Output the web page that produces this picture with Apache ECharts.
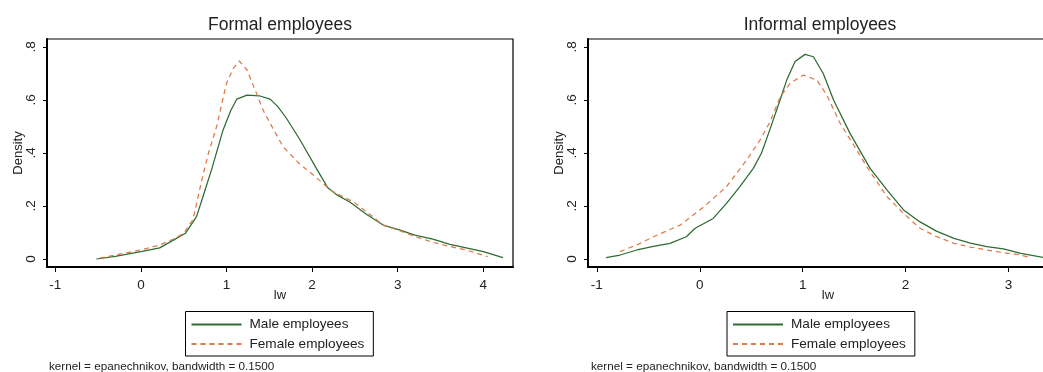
<!DOCTYPE html>
<html>
<head>
<meta charset="utf-8">
<script src="https://cdn.jsdelivr.net/npm/echarts@6/dist/echarts.min.js"></script>
<style>html,body{margin:0;padding:0;background:#fff;}#c{width:1043px;height:372px;}</style>
</head>
<body>
<div id="c"></div>
<script>
// ---- data (lw, density) ----
const formalMale = [[-0.52,0.0],[-0.3,0.01],[0,0.028],[0.22,0.042],[0.4,0.075],[0.52,0.097],[0.65,0.16],[0.72,0.23],[0.83,0.342],[0.96,0.487],[1.05,0.56],[1.12,0.603],[1.24,0.618],[1.39,0.615],[1.51,0.603],[1.60,0.575],[1.70,0.531],[1.86,0.449],[2.05,0.342],[2.18,0.27],[2.3,0.24],[2.44,0.215],[2.63,0.17],[2.83,0.128],[3.02,0.11],[3.2,0.09],[3.41,0.075],[3.61,0.055],[3.8,0.042],[4.0,0.028],[4.23,0.005]];
const formalFemale = [[-0.48,0.003],[-0.25,0.018],[0,0.034],[0.22,0.053],[0.4,0.078],[0.5,0.097],[0.61,0.15],[0.72,0.31],[0.79,0.40],[0.885,0.50],[1.0,0.663],[1.08,0.72],[1.15,0.747],[1.24,0.713],[1.35,0.625],[1.43,0.56],[1.51,0.512],[1.66,0.424],[1.85,0.36],[2.01,0.318],[2.24,0.254],[2.48,0.216],[2.63,0.18],[2.83,0.128],[3.02,0.107],[3.2,0.085],[3.41,0.063],[3.6,0.048],[3.8,0.034],[4.05,0.009]];
const informalMale = [[-0.91,0.005],[-0.775,0.015],[-0.61,0.034],[-0.45,0.048],[-0.29,0.059],[-0.13,0.084],[-0.045,0.116],[0.13,0.153],[0.26,0.21],[0.39,0.273],[0.52,0.342],[0.6,0.40],[0.683,0.49],[0.78,0.60],[0.845,0.675],[0.926,0.745],[1.023,0.772],[1.104,0.763],[1.20,0.70],[1.30,0.60],[1.46,0.474],[1.655,0.342],[1.82,0.26],[1.98,0.185],[2.14,0.14],[2.3,0.105],[2.47,0.078],[2.63,0.06],[2.79,0.047],[2.95,0.038],[3.12,0.021],[3.34,0.006],[3.45,0.002]];
const informalFemale = [[-0.775,0.028],[-0.6,0.055],[-0.45,0.084],[-0.19,0.128],[0.04,0.197],[0.26,0.273],[0.457,0.374],[0.586,0.449],[0.68,0.515],[0.78,0.61],[0.877,0.663],[1.007,0.694],[1.137,0.675],[1.234,0.619],[1.364,0.512],[1.526,0.411],[1.623,0.348],[1.82,0.235],[1.98,0.172],[2.14,0.116],[2.3,0.085],[2.47,0.059],[2.63,0.045],[2.79,0.034],[2.95,0.024],[3.12,0.015],[3.2,0.006]];

const panelTitles = ['Formal employees', 'Informal employees'];
const seriesNames = ['Male employees', 'Female employees'];
const xTicksFormal = [-1, 0, 1, 2, 3, 4];
const xTicksInformal = [-1, 0, 1, 2, 3];
const yTicks = [0, 0.2, 0.4, 0.6, 0.8];
const yTickLabels = ['0', '.2', '.4', '.6', '.8'];
const xTitle = 'lw';
const yTitle = 'Density';
const note = 'kernel = epanechnikov, bandwidth = 0.1500';

const FONT = '"Liberation Sans", Arial, sans-serif';
const TXT = '#222';
const GREEN = '#2d6b32';
const ORANGE = '#dc7a48';

function xAxis(gridIndex, min, max, ticks) {
  return {
    type: 'value', gridIndex, min, max,
    name: xTitle, nameLocation: 'middle', nameGap: 22, nameMoveOverlap: false,
    nameTextStyle: { fontFamily: FONT, fontSize: 13, color: TXT },
    axisLine: { show: true, onZero: false, lineStyle: { color: '#000', width: 2 } },
    axisTick: { show: true, length: 5, customValues: ticks, lineStyle: { color: '#000', width: 1 } },
    axisLabel: { customValues: ticks, margin: 11, fontFamily: FONT, fontSize: 13.5, color: TXT,
      formatter: v => String(v) },
    splitLine: { show: false }
  };
}
function yAxis(gridIndex) {
  return {
    type: 'value', gridIndex, min: -0.0302, max: 0.83,
    name: yTitle, nameLocation: 'middle', nameGap: 22, nameMoveOverlap: false,
    nameTextStyle: { fontFamily: FONT, fontSize: 13, color: TXT },
    axisLine: { show: true, onZero: false, lineStyle: { color: '#000', width: 2 } },
    axisTick: { show: true, length: 4, customValues: yTicks, lineStyle: { color: '#000', width: 1 } },
    axisLabel: { customValues: yTicks, rotate: 90, margin: 9, fontFamily: FONT, fontSize: 13.5, color: TXT,
      formatter: v => { const i = yTicks.findIndex(t => Math.abs(t - v) < 1e-9); return i >= 0 ? yTickLabels[i] : ''; } },
    splitLine: { show: false }
  };
}
function line(name, data, idx, color, dashed) {
  return {
    type: 'line', name, data, xAxisIndex: idx, yAxisIndex: idx,
    showSymbol: false, symbol: 'none', smooth: false, silent: true,
    lineStyle: { color, width: 1.25, type: dashed ? [5, 4] : 'solid' },
    itemStyle: { color }
  };
}
function legend(left) {
  return {
    left, top: 311.5, orient: 'vertical',
    data: seriesNames,
    itemWidth: 50, itemHeight: 14, itemGap: 5.5,
    padding: [6, 9, 5, 5],
    borderColor: '#000', borderWidth: 1,
    itemStyle: { opacity: 0 },
    textStyle: { fontFamily: FONT, fontSize: 13.6, color: TXT, padding: [0, 0, 0, 3] },
    selectedMode: false
  };
}

const chart = echarts.init(document.getElementById('c'), null, { renderer: 'canvas' });
chart.setOption({
  animation: false,
  backgroundColor: '#fff',
  title: [
    { text: panelTitles[0], left: 280, top: 16, textAlign: 'center', padding: 0,
      textStyle: { fontFamily: FONT, fontSize: 17.5, fontWeight: 'normal', color: TXT } },
    { text: panelTitles[1], left: 820, top: 16, textAlign: 'center', padding: 0,
      textStyle: { fontFamily: FONT, fontSize: 17.5, fontWeight: 'normal', color: TXT } },
    { text: note, left: 49, top: 361, padding: 0,
      textStyle: { fontFamily: FONT, fontSize: 11.7, fontWeight: 'normal', color: TXT } },
    { text: note, left: 591, top: 361, padding: 0,
      textStyle: { fontFamily: FONT, fontSize: 11.7, fontWeight: 'normal', color: TXT } }
  ],
  legend: [legend(185.5), legend(727)],
  grid: [
    { left: 47, top: 39, width: 466, height: 228, show: true, borderColor: '#000', borderWidth: 1.2, outerBoundsMode: 'none' },
    { left: 588, top: 39, width: 480, height: 228, show: true, borderColor: '#000', borderWidth: 1.2, outerBoundsMode: 'none' }
  ],
  xAxis: [
    xAxis(0, -1.097, 4.347, xTicksFormal),
    xAxis(1, -1.086, 3.578, xTicksInformal)
  ],
  yAxis: [yAxis(0), yAxis(1)],
  series: [
    line(seriesNames[0], formalMale, 0, GREEN, false),
    line(seriesNames[1], formalFemale, 0, ORANGE, true),
    line(seriesNames[0], informalMale, 1, GREEN, false),
    line(seriesNames[1], informalFemale, 1, ORANGE, true)
  ]
});
</script>
</body>
</html>
